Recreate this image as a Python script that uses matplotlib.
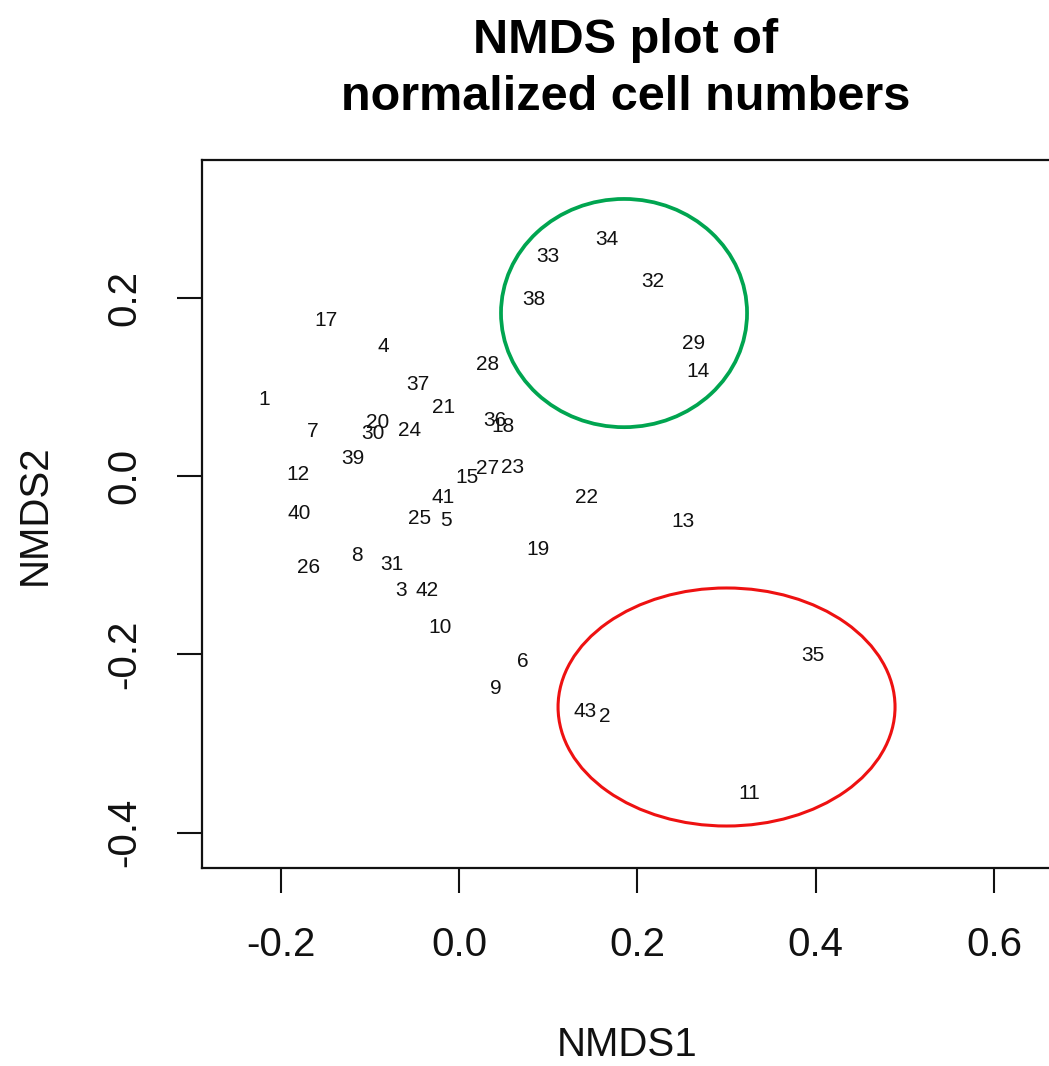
import matplotlib
matplotlib.use("Agg")
import matplotlib.pyplot as plt
from matplotlib.patches import Ellipse

plt.rcParams['font.family'] = ['Liberation Sans', 'DejaVu Sans']

# NMDS site scores, labelled by sample number
sample_ids = [1, 2, 3, 4, 5, 6, 7, 8, 9, 10, 11, 12, 13, 14, 15, 17, 18, 19, 20,
              21, 22, 23, 24, 25, 26, 27, 28, 29, 30, 31, 32, 33, 34, 35, 36, 37,
              38, 39, 40, 41, 42, 43]
nmds1 = [-0.2187, 0.1638, -0.0651, -0.0853, -0.0146, 0.0718, -0.1638, -0.1144,
         0.0415, -0.0213, 0.3253, -0.1806, 0.2513, 0.2681, 0.0090, -0.1492,
         0.0494, 0.0886, -0.0909, -0.0168, 0.1425, 0.0606, -0.0550, -0.0437,
         -0.1683, 0.0325, 0.0325, 0.2636, -0.0965, -0.0752, 0.2176, 0.0998,
         0.1660, 0.3971, 0.0404, -0.0460, 0.0841, -0.1189, -0.1795, -0.0179,
         -0.0359, 0.1413]
nmds2 = [0.0853, -0.2703, -0.1279, 0.1458, -0.0494, -0.2086, 0.0505, -0.0886,
         -0.2378, -0.1694, -0.3556, 0.0022, -0.0505, 0.1178, -0.0011, 0.1750,
         0.0561, -0.0819, 0.0595, 0.0774, -0.0236, 0.0101, 0.0516, -0.0471,
         -0.1021, 0.0090, 0.1256, 0.1492, 0.0482, -0.0998, 0.2187, 0.2457,
         0.2658, -0.2008, 0.0628, 0.1032, 0.1985, 0.0202, -0.0415, -0.0236,
         -0.1279, -0.2647]

x_ticks = [-0.2, 0.0, 0.2, 0.4, 0.6]
y_ticks = [-0.4, -0.2, 0.0, 0.2]

W, H = 1049, 1066
fig = plt.figure(figsize=(W / 100, H / 100), dpi=100)
fig.patch.set_facecolor('white')

left_px, right_px, top_px, bottom_px = 202, 1053, 160, 868
ax = fig.add_axes([left_px / W, 1 - bottom_px / H,
                   (right_px - left_px) / W, (bottom_px - top_px) / H])
ax.set_xlim(-0.2883, 0.6663)
ax.set_ylim(-0.4397, 0.3545)

for sid, x, y in zip(sample_ids, nmds1, nmds2):
    ax.text(x, y, str(sid), ha='center', va='center', fontsize=15,
            color='#111111')

# highlighted groups
ax.add_patch(Ellipse((0.1851, 0.1828), 0.276, 0.256, fill=False,
                     edgecolor='#00a550', linewidth=2.7))
ax.add_patch(Ellipse((0.3001, -0.2591), 0.378, 0.267, fill=False,
                     edgecolor='#ee1111', linewidth=2.2))

ax.set_xticks(x_ticks)
ax.set_xticklabels(['-0.2', '0.0', '0.2', '0.4', '0.6'])
ax.set_yticks(y_ticks)
ax.set_yticklabels(['-0.4', '-0.2', '0.0', '0.2'], rotation=90, va='center')
ax.tick_params(axis='both', length=18, width=1.5, labelsize=29,
               colors='#111111', pad=24)
for sp in ax.spines.values():
    sp.set_linewidth(1.6)
    sp.set_color('#111111')

fig.text(626 / W, 1 - 69 / H, 'NMDS plot of\nnormalized cell numbers',
         ha='center', va='center', fontsize=35, fontweight='bold',
         linespacing=1.34)
fig.text(627 / W, 1 - 1045 / H, 'NMDS1', ha='center', va='center',
         fontsize=29, color='#111111')
fig.text(35 / W, 1 - 515 / H, 'NMDS2', ha='center', va='center',
         fontsize=29, rotation=90, color='#111111')

fig.savefig('out.png', dpi=100)
